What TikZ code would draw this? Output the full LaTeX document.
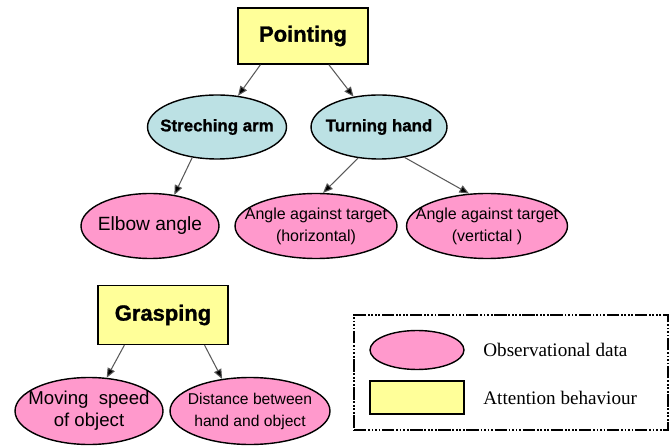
\documentclass[tikz,border=0pt]{standalone}
\usepackage{fontspec}
\setmainfont{Liberation Serif}
\newfontfamily\arialfont{Liberation Sans}
\newfontfamily\heavyfont{Liberation Sans}[FakeBold=1.2]
\usetikzlibrary{shapes.geometric,arrows.meta}
\definecolor{boxyellow}{HTML}{FFFF99}
\definecolor{obspink}{HTML}{FF99CC}
\definecolor{actblue}{HTML}{BCE1E4}
\tikzset{
  behaviour/.style={draw=black, line width=0.8pt, fill=boxyellow, inner sep=0pt,
    font=\heavyfont\bfseries\fontsize{12.5}{14}\selectfont},
  action/.style={ellipse, draw=black, line width=0.8pt, fill=actblue, inner sep=0pt,
    minimum height=1.28cm},
  observed/.style={ellipse, draw=black, line width=0.8pt, fill=obspink, inner sep=0pt,
    minimum height=1.3cm},
  actiontext/.style={inner sep=0pt, font=\heavyfont\bfseries\fontsize{9.6}{11}\selectfont},
  obstext/.style={inner sep=0pt, align=center, font=\arialfont\fontsize{9.1}{12.5}\selectfont},
  link/.style={draw=black!65, line width=0.6pt,
    -{Triangle[length=5.5pt,width=4.5pt,fill=black]}},
  legendtext/.style={anchor=west, inner sep=0pt, font=\fontsize{10.9}{13}\selectfont},
}
\begin{document}
\begin{tikzpicture}[x=0.02cm,y=-0.02cm]
  \useasboundingbox (0,0) rectangle (671,448);

  % Pointing tree
  \node[behaviour, minimum width=2.6cm, minimum height=1.12cm] (point) at (303,36) {Pointing};
  \node[action, minimum width=2.78cm] (stretch) at (217,127) {};
  \node[actiontext] (stretch-t) at (stretch.center) {Streching arm};
  \node[action, minimum width=2.72cm] (turn) at (379,127) {};
  \node[actiontext] (turn-t) at (turn.center) {Turning hand};
  \node[observed, minimum width=2.76cm] (elbow) at (150,226) {};
  \node[obstext, font=\arialfont\fontsize{10.9}{12.5}\selectfont] (elbow-t) at (elbow.center) {Elbow angle};
  \node[observed, minimum width=3.24cm] (horiz) at (316,226) {};
  \node[obstext] (horiz-t) at (horiz.center) {Angle against target\\(horizontal)};
  \node[observed, minimum width=3.22cm] (vert) at (487,226) {};
  \node[obstext] (vert-t) at (vert.center) {Angle against target\\(vertictal )};

  \draw[link] (point.214) -- (stretch.56);
  \draw[link] (point.312) -- (turn.130);
  \draw[link] (stretch.231) -- (elbow.52);
  \draw[link] (turn.236) -- (horiz.78);
  \draw[link] (turn.310) -- (vert.119);

  % Grasping tree
  \node[behaviour, minimum width=2.6cm, minimum height=1.18cm] (grasp) at (163,315) {Grasping};
  \node[observed, minimum width=2.96cm, minimum height=1.34cm] (speed) at (89,411) {};
  \node[obstext, font=\arialfont\fontsize{10.6}{12.5}\selectfont] (speed-t) at (speed.center) {Moving\ \ speed\\of object};
  \node[observed, minimum width=3.2cm, minimum height=1.34cm] (dist) at (250,411) {};
  \node[obstext, font=\arialfont\fontsize{8.9}{12.5}\selectfont] (dist-t) at (dist.center) {Distance between\\hand and object};

  \draw[link] (grasp.218) -- (speed.62);
  \draw[link] (grasp.324) -- (dist.131);

  % Legend
  \node[draw=black, line width=1.2pt, inner sep=0pt, minimum width=6.28cm, minimum height=2.3cm,
    dash pattern=on 7pt off 1pt on 1pt off 1pt on 1pt off 1pt on 1pt off 1pt on 1pt off 1pt]
    (legend) at (511,372.5) {};
  \node[ellipse, draw=black, line width=0.8pt, fill=obspink, inner sep=0pt,
    minimum width=1.88cm, minimum height=0.78cm] (keyobs) at (417,350) {};
  \node[draw=black, line width=0.8pt, fill=boxyellow, inner sep=0pt,
    minimum width=1.88cm, minimum height=0.66cm] (keybeh) at (417,397.5) {};
  \node[legendtext] (keyobstext) at (483,350) {Observational data};
  \node[legendtext] (keybehtext) at (483,397.5) {Attention behaviour};
\end{tikzpicture}
\end{document}
